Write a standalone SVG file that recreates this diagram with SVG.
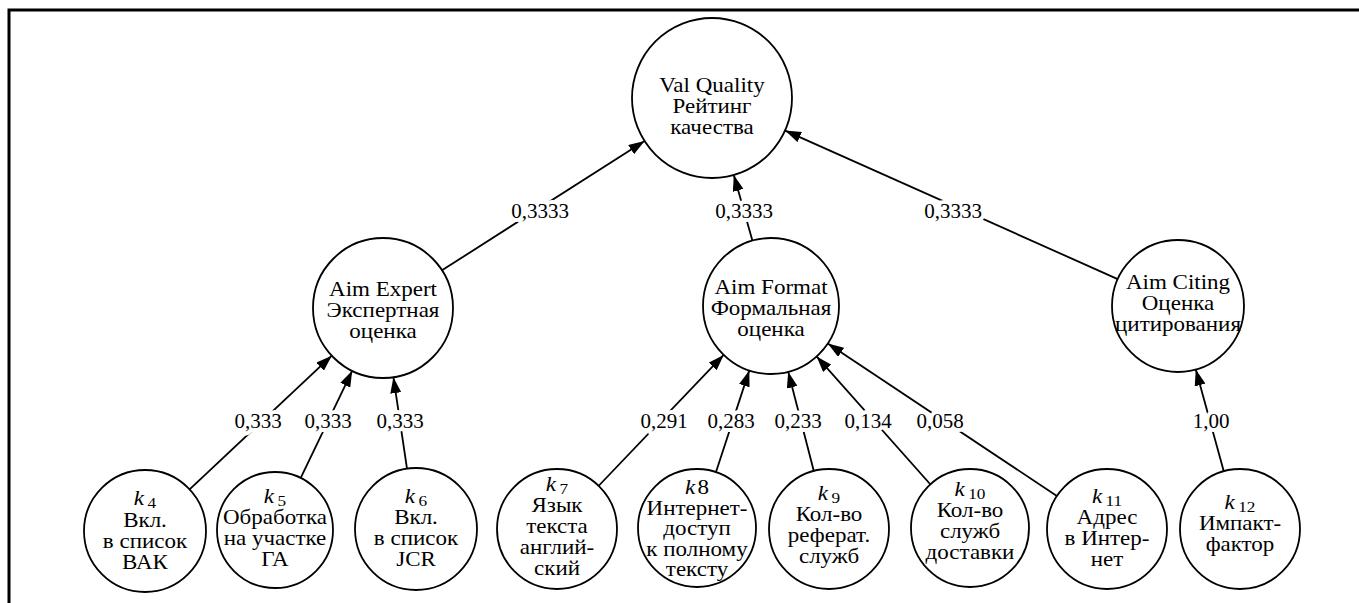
<svg xmlns="http://www.w3.org/2000/svg" width="1359" height="603" viewBox="0 0 1359 603">
<defs>
<style>
.node circle{fill:#fff;stroke:#000;stroke-width:1.8}
.node text{font-family:"Liberation Serif","Times New Roman",serif;font-size:20px;fill:#000;text-anchor:middle}
.k{font-style:italic;font-size:20px}
.sub{font-size:15px}
.edge{stroke:#000;stroke-width:1.8;fill:none;marker-end:url(#arr)}
.lbl{font-family:"Liberation Serif","Times New Roman",serif;font-size:21px;fill:#000;text-anchor:middle;stroke:#fff;stroke-width:8px;paint-order:stroke;stroke-linejoin:round}
</style>
<marker id="arr" markerUnits="userSpaceOnUse" markerWidth="16" markerHeight="11" refX="16" refY="5.5" orient="auto">
<path d="M0,0 L16,5.5 L0,11 z" fill="#000"/>
</marker>
</defs>
<rect width="1359" height="603" fill="#fff"/>
<path d="M9,603 V10 H1359" fill="none" stroke="#000" stroke-width="3"/>

<g id="connectors">
<line class="edge" x1="442" y1="270.3" x2="644.6" y2="141"/>
<line class="edge" x1="752.4" y1="240.6" x2="733.8" y2="175"/>
<line class="edge" x1="1117.7" y1="279.1" x2="785.1" y2="130.6"/>
<line class="edge" x1="189.6" y1="489.4" x2="331.8" y2="355.7"/>
<line class="edge" x1="301.1" y1="477.2" x2="352.2" y2="370.8"/>
<line class="edge" x1="407" y1="468.7" x2="393.4" y2="377.2"/>
<line class="edge" x1="598.5" y1="486" x2="723.7" y2="354.9"/>
<line class="edge" x1="716" y1="472" x2="749.3" y2="370.4"/>
<line class="edge" x1="813.8" y1="471" x2="788.2" y2="371.8"/>
<line class="edge" x1="930.5" y1="484.5" x2="816.6" y2="356.4"/>
<line class="edge" x1="1056.9" y1="496" x2="827.8" y2="343.4"/>
<line class="edge" x1="1223.7" y1="471" x2="1195.8" y2="369.6"/>
<text class="lbl" x="540" y="218">0,3333</text>
<text class="lbl" x="744" y="218">0,3333</text>
<text class="lbl" x="953" y="218">0,3333</text>
<text class="lbl" x="258" y="428">0,333</text>
<text class="lbl" x="328" y="428">0,333</text>
<text class="lbl" x="400" y="428">0,333</text>
<text class="lbl" x="664" y="428">0,291</text>
<text class="lbl" x="731" y="428">0,283</text>
<text class="lbl" x="798" y="428">0,233</text>
<text class="lbl" x="868" y="428">0,134</text>
<text class="lbl" x="940" y="428">0,058</text>
<text class="lbl" x="1211" y="428">1,00</text>
</g>

<g id="n-quality" class="node"><circle cx="712" cy="98" r="80"/>
<text transform="matrix(1.15 0 0 1 712 0)"><tspan x="0" y="92">Val Quality</tspan><tspan x="0" y="113">Рейтинг</tspan><tspan x="0" y="134">качества</tspan></text></g>

<g id="n-expert" class="node"><circle cx="383" cy="308" r="70"/>
<text transform="matrix(1.15 0 0 1 383 0)"><tspan x="0" y="296">Aim Expert</tspan><tspan x="0" y="317">Экспертная</tspan><tspan x="0" y="338">оценка</tspan></text></g>

<g id="n-format" class="node"><circle cx="771" cy="306" r="68"/>
<text transform="matrix(1.15 0 0 1 771 0)"><tspan x="0" y="294">Aim Format</tspan><tspan x="0" y="315">Формальная</tspan><tspan x="0" y="336">оценка</tspan></text></g>

<g id="n-citing" class="node"><circle cx="1178" cy="306" r="66"/>
<text transform="matrix(1.15 0 0 1 1178 0)"><tspan x="0" y="289">Aim Citing</tspan><tspan x="0" y="310">Оценка</tspan><tspan x="0" y="331">цитирования</tspan></text></g>

<g id="n-k4" class="node"><circle cx="145" cy="531" r="61"/>
<text transform="matrix(1.15 0 0 1 145 0)"><tspan x="0" y="505" class="k">k</tspan><tspan class="sub" dx="3" dy="3">4</tspan><tspan x="0" y="527">Вкл.</tspan><tspan x="0" y="548">в список</tspan><tspan x="0" y="569">ВАК</tspan></text></g>

<g id="n-k5" class="node"><circle cx="275" cy="530" r="58"/>
<text transform="matrix(1.15 0 0 1 275 0)"><tspan x="0" y="503" class="k">k</tspan><tspan class="sub" dx="3" dy="3">5</tspan><tspan x="0" y="524">Обработка</tspan><tspan x="0" y="545">на участке</tspan><tspan x="0" y="566">ГА</tspan></text></g>

<g id="n-k6" class="node"><circle cx="416" cy="529" r="61"/>
<text transform="matrix(1.15 0 0 1 416 0)"><tspan x="0" y="503" class="k">k</tspan><tspan class="sub" dx="3" dy="3">6</tspan><tspan x="0" y="524">Вкл.</tspan><tspan x="0" y="545">в список</tspan><tspan x="0" y="566">JCR</tspan></text></g>

<g id="n-k7" class="node"><circle cx="557" cy="529" r="60"/>
<text transform="matrix(1.15 0 0 1 557 0)"><tspan x="0" y="491" class="k">k</tspan><tspan class="sub" dx="3" dy="3">7</tspan><tspan x="0" y="512">Язык</tspan><tspan x="0" y="533">текста</tspan><tspan x="0" y="554">англий-</tspan><tspan x="0" y="575">ский</tspan></text></g>

<g id="n-k8" class="node"><circle cx="697" cy="528" r="59"/>
<text transform="matrix(1.15 0 0 1 697 0)"><tspan x="0" y="494" class="k">k</tspan><tspan dx="2">8</tspan><tspan x="0" y="515">Интернет-</tspan><tspan x="0" y="535">доступ</tspan><tspan x="0" y="556">к полному</tspan><tspan x="0" y="576">тексту</tspan></text></g>

<g id="n-k9" class="node"><circle cx="829" cy="529" r="60"/>
<text transform="matrix(1.15 0 0 1 829 0)"><tspan x="0" y="500" class="k">k</tspan><tspan class="sub" dx="3" dy="3">9</tspan><tspan x="0" y="521">Кол-во</tspan><tspan x="0" y="542">реферат.</tspan><tspan x="0" y="563">служб</tspan></text></g>

<g id="n-k10" class="node"><circle cx="970" cy="528" r="59"/>
<text transform="matrix(1.15 0 0 1 970 0)"><tspan x="0" y="496" class="k">k</tspan><tspan class="sub" dx="3" dy="3">10</tspan><tspan x="0" y="517">Кол-во</tspan><tspan x="0" y="538">служб</tspan><tspan x="0" y="559">доставки</tspan></text></g>

<g id="n-k11" class="node"><circle cx="1107" cy="529" r="60"/>
<text transform="matrix(1.15 0 0 1 1107 0)"><tspan x="0" y="503" class="k">k</tspan><tspan class="sub" dx="3" dy="3">11</tspan><tspan x="0" y="524">Адрес</tspan><tspan x="0" y="545">в Интер-</tspan><tspan x="0" y="566">нет</tspan></text></g>

<g id="n-k12" class="node"><circle cx="1240" cy="529" r="60"/>
<text transform="matrix(1.15 0 0 1 1240 0)"><tspan x="0" y="509" class="k">k</tspan><tspan class="sub" dx="3" dy="3">12</tspan><tspan x="0" y="530">Импакт-</tspan><tspan x="0" y="551">фактор</tspan></text></g>
</svg>
